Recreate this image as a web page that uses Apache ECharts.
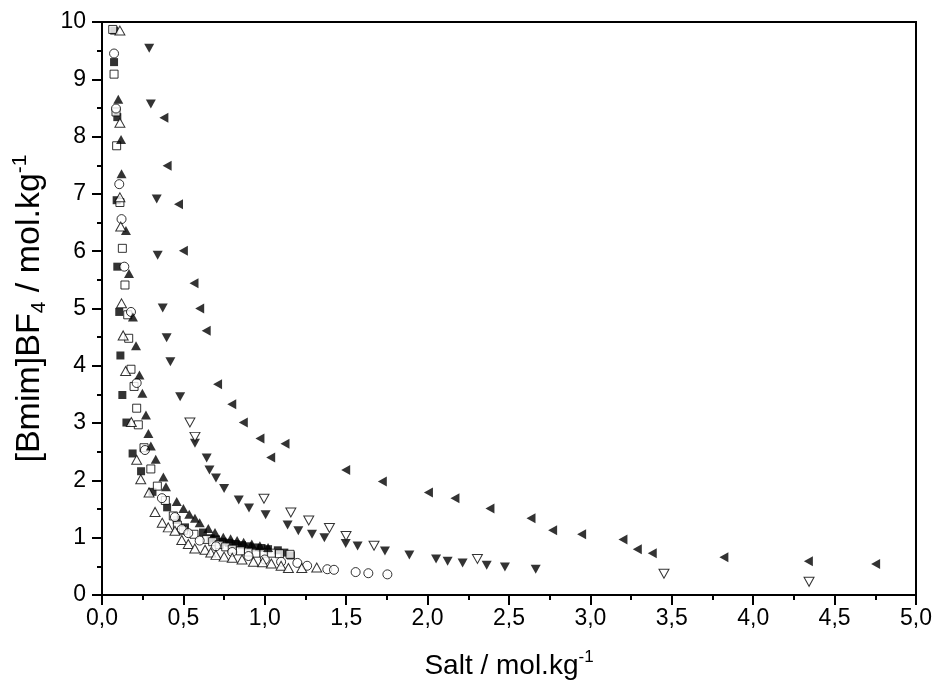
<!DOCTYPE html>
<html>
<head>
<meta charset="utf-8">
<script src="https://cdn.jsdelivr.net/npm/echarts@6/dist/echarts.min.js"></script>
<style>
html,body{margin:0;padding:0;background:#fff;}
#chart{width:936px;height:686px;}
</style>
</head>
<body>
<div id="chart"></div>
<script>
// x tick labels (comma decimal)
const xTicks = [0, 0.5, 1, 1.5, 2, 2.5, 3, 3.5, 4, 4.5, 5];
const yTicks = [0, 1, 2, 3, 4, 5, 6, 7, 8, 9, 10];

// filled squares
const sqFilled = [[0.075,9.85],[0.074,9.30],[0.094,8.34],[0.09,6.89],[0.094,5.73],[0.106,4.94],[0.113,4.18],[0.125,3.49],[0.15,3.01],[0.188,2.47],[0.24,2.16],[0.31,1.80],[0.40,1.53],[0.459,1.31],[0.51,1.18],[0.62,1.09],[0.668,0.99],[0.70,0.97],[0.74,0.93],[0.78,0.91],[0.82,0.89],[0.86,0.87],[0.90,0.85],[0.94,0.83],[0.98,0.82],[1.02,0.80],[1.08,0.78],[1.12,0.74],[1.16,0.69]];
// open squares
const sqOpen = [[0.066,9.87],[0.074,9.09],[0.086,8.43],[0.09,7.84],[0.11,6.85],[0.125,6.05],[0.141,5.41],[0.158,4.89],[0.164,4.48],[0.178,3.94],[0.197,3.64],[0.213,3.26],[0.223,2.97],[0.258,2.57],[0.30,2.20],[0.34,1.90],[0.389,1.65],[0.438,1.38],[0.463,1.22],[0.50,1.13],[0.565,1.06],[0.643,0.97],[0.68,0.93],[0.72,0.88],[0.76,0.84],[0.80,0.80],[0.85,0.77],[0.90,0.75],[0.946,0.73],[0.995,0.73],[1.04,0.73],[1.09,0.72],[1.155,0.71]];
// open circles
const circOpen = [[0.074,9.45],[0.086,8.49],[0.106,7.17],[0.12,6.56],[0.137,5.73],[0.178,4.94],[0.213,3.70],[0.264,2.53],[0.368,1.69],[0.448,1.36],[0.49,1.15],[0.53,1.08],[0.60,0.95],[0.70,0.85],[0.80,0.75],[0.90,0.68],[1.00,0.62],[1.10,0.58],[1.20,0.56],[1.26,0.51],[1.384,0.45],[1.425,0.44],[1.558,0.40],[1.636,0.38],[1.753,0.36]];
// filled triangles up
const triUpFilled = [[0.10,8.65],[0.117,7.95],[0.12,7.35],[0.147,6.36],[0.166,5.61],[0.19,4.85],[0.209,4.35],[0.23,3.84],[0.248,3.52],[0.27,3.14],[0.285,2.82],[0.30,2.60],[0.33,2.37],[0.377,2.06],[0.393,1.89],[0.459,1.63],[0.50,1.51],[0.536,1.41],[0.571,1.34],[0.60,1.26],[0.653,1.16],[0.694,1.09],[0.745,1.01],[0.79,0.98],[0.83,0.95],[0.87,0.92],[0.92,0.89],[0.97,0.86],[1.02,0.83]];
// open triangles up
const triUpOpen = [[0.11,9.85],[0.11,8.24],[0.11,6.94],[0.115,6.43],[0.12,5.09],[0.13,4.53],[0.145,3.91],[0.18,3.02],[0.213,2.36],[0.238,2.02],[0.289,1.79],[0.326,1.45],[0.37,1.26],[0.407,1.18],[0.448,1.12],[0.49,0.96],[0.53,0.89],[0.57,0.81],[0.633,0.79],[0.668,0.74],[0.70,0.70],[0.75,0.67],[0.80,0.65],[0.86,0.62],[0.93,0.58],[0.987,0.57],[1.04,0.55],[1.10,0.51],[1.145,0.47],[1.227,0.47],[1.319,0.48]];
// filled triangles down
const triDownFilled = [[0.29,9.54],[0.30,8.57],[0.336,6.91],[0.342,5.93],[0.373,5.01],[0.397,4.49],[0.42,4.07],[0.48,3.46],[0.571,2.65],[0.643,2.39],[0.66,2.18],[0.70,2.04],[0.75,1.86],[0.84,1.66],[0.903,1.52],[1.005,1.40],[1.14,1.22],[1.206,1.12],[1.29,1.06],[1.366,1.00],[1.497,0.90],[1.57,0.855],[1.738,0.77],[1.888,0.70],[2.052,0.63],[2.123,0.59],[2.215,0.56],[2.363,0.52],[2.475,0.49],[2.664,0.45]];
// open triangles down
const triDownOpen = [[0.54,3.01],[0.571,2.76],[0.995,1.68],[1.16,1.44],[1.27,1.30],[1.397,1.17],[1.499,1.03],[1.671,0.86],[2.306,0.63],[3.452,0.37],[4.343,0.23]];
// filled triangles left
const triLeftFilled = [[0.38,8.33],[0.40,7.49],[0.47,6.82],[0.50,6.01],[0.565,5.44],[0.60,5.00],[0.64,4.61],[0.71,3.68],[0.797,3.33],[0.868,3.01],[0.97,2.73],[1.036,2.40],[1.124,2.64],[1.497,2.18],[1.722,1.98],[2.005,1.79],[2.168,1.69],[2.383,1.51],[2.635,1.34],[2.768,1.13],[2.946,1.06],[3.20,0.97],[3.288,0.80],[3.38,0.73],[3.82,0.66],[4.339,0.59],[4.752,0.54]];

const FONT = 'Arial, "Liberation Sans", Helvetica, sans-serif';

function mk(name, data, symbol, size, filled, rotate) {
  return {
    name: name, type: 'scatter', data: data, symbol: symbol, symbolSize: size,
    symbolRotate: rotate || 0,
    itemStyle: filled ? {color: '#000', borderWidth: 0} : {color: '#fff', borderColor: '#000', borderWidth: 1},
    emphasis: {disabled: true}, animation: false
  };
}

const chart = echarts.init(document.getElementById('chart'), null, {renderer: 'canvas'});
chart.setOption({
  backgroundColor: '#fff',
  animation: false,
  grid: {left: 102, right: 20, top: 22, bottom: 91, show: true, borderColor: '#000', borderWidth: 2, backgroundColor: 'transparent'},
  xAxis: {
    type: 'value', min: xTicks[0], max: xTicks[xTicks.length - 1], interval: 0.5,
    axisLine: {lineStyle: {color: '#000', width: 2}},
    axisTick: {inside: false, length: 10, lineStyle: {color: '#000', width: 2}},
    minorTick: {show: true, splitNumber: 2, length: 5, lineStyle: {color: '#000', width: 2}},
    splitLine: {show: false},
    axisLabel: {color: '#000', fontSize: 23, fontFamily: FONT, margin: 12,
      formatter: function (v) { return v.toFixed(1).replace('.', ','); }},
    name: '{a|Salt / mol.kg}{s|-1}', nameLocation: 'middle', nameGap: 54,
    nameTextStyle: {rich: {
      a: {fontSize: 28, fontFamily: FONT, color: '#000', lineHeight: 34},
      s: {fontSize: 17, fontFamily: FONT, color: '#000', lineHeight: 17, verticalAlign: 'top'}
    }}
  },
  yAxis: {
    type: 'value', min: yTicks[0], max: yTicks[yTicks.length - 1], interval: 1,
    axisLine: {lineStyle: {color: '#000', width: 2}},
    axisTick: {inside: false, length: 10, lineStyle: {color: '#000', width: 2}},
    minorTick: {show: true, splitNumber: 2, length: 5, lineStyle: {color: '#000', width: 2}},
    splitLine: {show: false},
    axisLabel: {color: '#000', fontSize: 23, fontFamily: FONT, margin: 16},
    name: '{a|[Bmim]BF}{b|4}{a| / mol.kg}{s|-1}', nameLocation: 'middle', nameGap: 49,
    nameTextStyle: {rich: {
      a: {fontSize: 34, fontFamily: FONT, color: '#000', lineHeight: 40},
      b: {fontSize: 21, fontFamily: FONT, color: '#000', lineHeight: 21, verticalAlign: 'bottom'},
      s: {fontSize: 21, fontFamily: FONT, color: '#000', lineHeight: 21, verticalAlign: 'top'}
    }}
  },
  series: [
    mk('sqFilled', sqFilled, 'rect', 8, true),
    mk('sqOpen', sqOpen, 'rect', 8, false),
    mk('circOpen', circOpen, 'circle', 9, false),
    mk('triUpFilled', triUpFilled, 'triangle', [10, 9], true),
    mk('triUpOpen', triUpOpen, 'triangle', [10, 9], false),
    mk('triDownFilled', triDownFilled, 'triangle', [10, 9], true, 180),
    mk('triDownOpen', triDownOpen, 'triangle', [10, 9], false, 180),
    mk('triLeftFilled', triLeftFilled, 'triangle', [10, 9], true, 90)
  ]
});
</script>
</body>
</html>
